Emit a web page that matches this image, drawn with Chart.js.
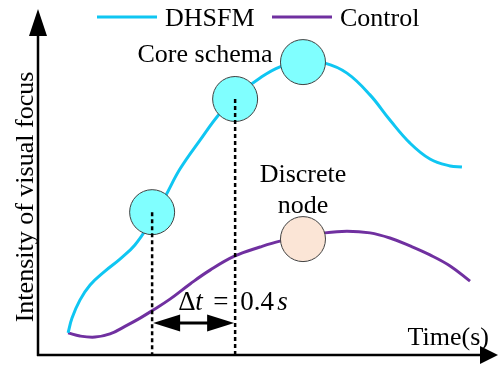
<!DOCTYPE html>
<html lang="en">
<head>
  <meta charset="UTF-8" />
  <title>Intensity of visual focus</title>
  <script src="https://cdn.jsdelivr.net/npm/chart.js"></script>
  <style>
    html, body { margin: 0; padding: 0; background: #fff; }
    #chart { display: block; }
  </style>
</head>
<body>
  <canvas id="chart" width="499" height="365"></canvas>

  <script>
    // curve samples (time in s, intensity 0-100)
    const dhsfmX = [0.145, 0.164, 0.202, 0.251, 0.323, 0.395, 0.467, 0.54, 0.612, 0.684, 0.781, 0.877,
                    0.973, 1.07, 1.166, 1.277, 1.383, 1.489, 1.6, 1.696, 1.793, 1.889, 1.986, 2.043];
    const dhsfmY = [6.4, 10.7, 15.9, 20.3, 24.3, 27.8, 31.9, 38.3, 45.8, 53.9, 62.3, 70.1,
                    75.9, 80.3, 83.5, 85.2, 84.6, 81.7, 75.4, 68.1, 61.4, 56.8, 54.8, 54.5];

    const controlX = [0.145, 0.202, 0.275, 0.347, 0.419, 0.492, 0.549, 0.636, 0.733, 0.829, 0.949,
                      1.07, 1.166, 1.277, 1.383, 1.489, 1.6, 1.696, 1.793, 1.889, 1.986, 2.082];
    const controlY = [6.4, 5.5, 5.2, 6.1, 8.3, 10.7, 12.8, 16.2, 20.6, 24.6, 28.7,
                      31.3, 33.0, 34.2, 35.4, 35.9, 35.4, 33.9, 31.6, 29.0, 25.8, 21.4];

    // core schema nodes on DHSFM, discrete node on Control
    const coreX = [0.55, 0.95, 1.277];
    const coreY = [41.4, 74.2, 84.9];
    const discreteX = [1.277];
    const discreteY = [33.6];

    const deltaT = 0.4;
    const arrowY = 9.3;

    const CYAN = '#0fc6f2';
    const PURPLE = '#7030a0';
    const FONT = '"Liberation Serif", "Times New Roman", serif';

    const pts = (xs, ys) => xs.map((x, i) => ({ x: x, y: ys[i] }));

    function arrowHead(ctx, tx, ty, dx, dy, len, half) {
      // tip at (tx,ty), pointing along (dx,dy)
      const nx = -dy, ny = dx;
      ctx.beginPath();
      ctx.moveTo(tx, ty);
      ctx.lineTo(tx - dx * len + nx * half, ty - dy * len + ny * half);
      ctx.lineTo(tx - dx * len - nx * half, ty - dy * len - ny * half);
      ctx.closePath();
      ctx.fill();
    }

    const decorations = {
      id: 'decorations',
      beforeDatasetsDraw(chart) {
        const ctx = chart.ctx;
        const a = chart.chartArea;
        ctx.save();
        ctx.strokeStyle = '#000';
        ctx.fillStyle = '#000';
        ctx.lineWidth = 2.5;
        // axes with arrows
        ctx.beginPath();
        ctx.moveTo(a.left, a.bottom + 1);
        ctx.lineTo(a.left, a.top + 20);
        ctx.moveTo(a.left - 1, a.bottom);
        ctx.lineTo(a.right - 12, a.bottom);
        ctx.stroke();
        arrowHead(ctx, a.left, a.top - 1, 0, -1, 27, 9);
        arrowHead(ctx, a.right + 1, a.bottom, 1, 0, 18, 9);

        // axis titles
        ctx.font = '26px ' + FONT;
        ctx.textAlign = 'right';
        ctx.textBaseline = 'alphabetic';
        ctx.fillText('Time(s)', 489, 345);
        ctx.save();
        ctx.translate(33, 197);
        ctx.rotate(-Math.PI / 2);
        ctx.textAlign = 'center';
        ctx.fillText('Intensity of visual focus', 0, 0);
        ctx.restore();

        // legend
        chart.data.datasets.slice(0, 2).forEach((ds, i) => {
          const x0 = i === 0 ? 97 : 272;
          ctx.lineWidth = 3;
          ctx.strokeStyle = ds.borderColor;
          ctx.beginPath();
          ctx.moveTo(x0, 17);
          ctx.lineTo(x0 + 60, 17);
          ctx.stroke();
          ctx.font = '26px ' + FONT;
          ctx.textAlign = 'left';
          ctx.fillStyle = '#000';
          ctx.fillText(ds.label, x0 + 68, 26);
        });

        // annotations
        ctx.textAlign = 'center';
        ctx.fillText('Core schema', 205, 62);
        ctx.fillText('Discrete', 303, 182);
        ctx.fillText('node', 303, 213);
        ctx.restore();
      },
      afterDatasetsDraw(chart) {
        const ctx = chart.ctx;
        const xs = chart.scales.x, ys = chart.scales.y;
        const x1 = xs.getPixelForValue(coreX[0]);
        const x2 = xs.getPixelForValue(coreX[0] + deltaT);
        const y = ys.getPixelForValue(arrowY);
        ctx.save();
        ctx.fillStyle = '#000';
        ctx.strokeStyle = '#000';
        ctx.lineWidth = 3;
        ctx.beginPath();
        ctx.moveTo(x1 + 20, y);
        ctx.lineTo(x2 - 20, y);
        ctx.stroke();
        arrowHead(ctx, x1 + 1, y, -1, 0, 27, 8.5);
        arrowHead(ctx, x2 - 1, y, 1, 0, 27, 8.5);

        // Δt = 0.4s
        ctx.textBaseline = 'alphabetic';
        ctx.textAlign = 'left';
        const by = 310;
        ctx.font = '27px ' + FONT;
        ctx.fillText('\u0394', x2 - 57, by);
        ctx.fillText('=', x2 - 22, by);
        ctx.fillText(deltaT.toFixed(1), x2 + 5, by);
        ctx.font = 'italic 27px ' + FONT;
        ctx.fillText('t', x2 - 40, by);
        ctx.fillText('s', x2 + 42, by);
        ctx.restore();
      }
    };

    new Chart(document.getElementById('chart'), {
      type: 'line',
      data: {
        datasets: [
          { label: 'DHSFM', data: pts(dhsfmX, dhsfmY), borderColor: CYAN, borderWidth: 3,
            pointRadius: 0, tension: 0.4, order: 4 },
          { label: 'Control', data: pts(controlX, controlY), borderColor: PURPLE, borderWidth: 3,
            pointRadius: 0, tension: 0.4, order: 4 },
          { label: 'core', data: pts(coreX, coreY), showLine: false, pointRadius: 22.5,
            pointBackgroundColor: '#80ffff', pointBorderColor: '#404040', pointBorderWidth: 1, order: 2 },
          { label: 'discrete', data: pts(discreteX, discreteY), showLine: false, pointRadius: 22.5,
            pointBackgroundColor: '#fbe5d6', pointBorderColor: '#404040', pointBorderWidth: 1, order: 2 },
          { label: 'drop1', data: [{ x: coreX[0], y: coreY[0] }, { x: coreX[0], y: 0 }],
            borderColor: '#000', borderWidth: 2.5, borderDash: [4, 3], pointRadius: 0, order: 1 },
          { label: 'drop2', data: [{ x: coreX[1], y: coreY[1] }, { x: coreX[1], y: 0 }],
            borderColor: '#000', borderWidth: 2.5, borderDash: [4, 3], pointRadius: 0, order: 1 }
        ]
      },
      options: {
        responsive: false,
        devicePixelRatio: 1,
        animation: false,
        layout: { autoPadding: false, padding: { left: 38, right: 2, top: 10, bottom: 10 } },
        scales: {
          x: { type: 'linear', min: 0, max: 2.212, display: false },
          y: { min: 0, max: 100, display: false }
        },
        plugins: {
          legend: { display: false },
          tooltip: { enabled: false }
        }
      },
      plugins: [decorations]
    });
  </script>
</body>
</html>
